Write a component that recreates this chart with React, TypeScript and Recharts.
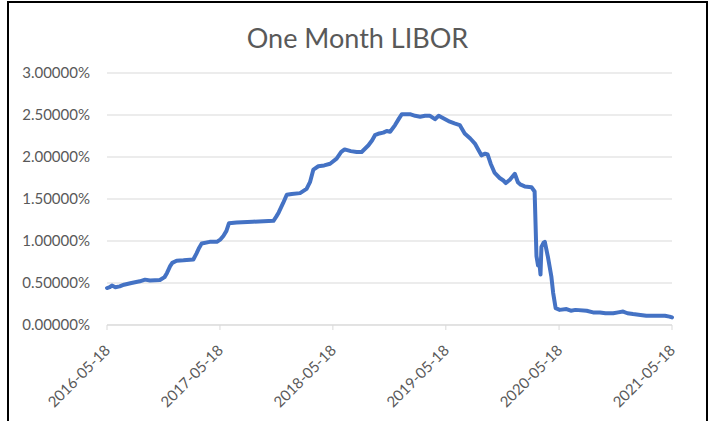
import { LineChart, Line, XAxis, YAxis, CartesianGrid } from "recharts";

const dates = [
  "2016-05-18", "2016-05-27", "2016-06-03", "2016-06-14", "2016-06-28", "2016-07-12",
  "2016-08-05", "2016-09-01", "2016-09-18", "2016-10-04", "2016-11-05", "2016-11-20",
  "2016-11-28", "2016-12-08", "2016-12-15", "2016-12-29", "2017-01-20", "2017-02-21",
  "2017-03-03", "2017-03-12", "2017-03-20", "2017-04-15", "2017-05-08", "2017-05-20",
  "2017-05-29", "2017-06-08", "2017-06-16", "2017-07-11", "2017-09-01", "2017-11-07",
  "2017-11-16", "2017-11-24", "2017-12-08", "2017-12-20", "2018-01-05", "2018-02-01",
  "2018-02-22", "2018-03-05", "2018-03-16", "2018-04-01", "2018-04-20", "2018-05-09",
  "2018-05-30", "2018-06-14", "2018-06-25", "2018-07-15", "2018-08-03", "2018-08-19",
  "2018-09-10", "2018-09-22", "2018-10-01", "2018-10-15", "2018-10-28", "2018-11-08",
  "2018-11-19", "2018-12-05", "2018-12-18", "2018-12-27", "2019-01-10", "2019-01-22",
  "2019-02-08", "2019-02-24", "2019-03-12", "2019-03-28", "2019-04-13", "2019-04-25",
  "2019-05-10", "2019-05-31", "2019-06-15", "2019-07-02", "2019-07-10", "2019-07-18",
  "2019-08-05", "2019-08-20", "2019-09-01", "2019-09-10", "2019-09-22", "2019-09-30",
  "2019-10-10", "2019-10-23", "2019-11-08", "2019-11-20", "2019-11-28", "2019-12-11",
  "2019-12-27", "2020-01-06", "2020-01-15", "2020-01-28", "2020-02-19", "2020-02-29",
  "2020-03-06", "2020-03-11", "2020-03-15", "2020-03-19", "2020-03-22", "2020-03-29",
  "2020-04-02", "2020-04-12", "2020-04-23", "2020-04-29", "2020-05-07", "2020-05-20",
  "2020-06-11", "2020-06-25", "2020-07-10", "2020-08-15", "2020-09-05", "2020-09-27",
  "2020-10-15", "2020-11-09", "2020-11-25", "2020-12-11", "2020-12-25", "2021-01-12",
  "2021-02-05", "2021-02-24", "2021-03-20", "2021-04-08", "2021-04-25", "2021-05-10",
  "2021-05-18",
];

// one month LIBOR, in percent
const rates = [
  0.44, 0.45, 0.47, 0.45, 0.46, 0.48,
  0.5, 0.52, 0.54, 0.53, 0.535, 0.57,
  0.62, 0.7, 0.74, 0.765, 0.77, 0.78,
  0.85, 0.92, 0.97, 0.99, 0.99, 1.02,
  1.06, 1.12, 1.21, 1.22, 1.23, 1.24,
  1.29, 1.34, 1.45, 1.55, 1.56, 1.57,
  1.62, 1.7, 1.85, 1.89, 1.9, 1.92,
  1.98, 2.06, 2.09, 2.07, 2.06, 2.06,
  2.14, 2.2, 2.26, 2.28, 2.29, 2.31,
  2.3, 2.38, 2.46, 2.51, 2.51, 2.51,
  2.49, 2.48, 2.49, 2.49, 2.45, 2.49,
  2.46, 2.42, 2.4, 2.38, 2.33, 2.28,
  2.22, 2.16, 2.08, 2.02, 2.04, 2.03,
  1.92, 1.81, 1.75, 1.72, 1.69, 1.73,
  1.8, 1.7, 1.67, 1.65, 1.64, 1.59,
  0.82, 0.71, 0.76, 0.6, 0.93, 0.98,
  0.99, 0.81, 0.58, 0.38, 0.2, 0.18,
  0.19, 0.17, 0.18, 0.17, 0.15, 0.15,
  0.14, 0.14, 0.15, 0.16, 0.14, 0.13,
  0.12, 0.11, 0.11, 0.11, 0.11, 0.1,
  0.09,
];

const tickDates = ["2016-05-18", "2017-05-18", "2018-05-18", "2019-05-18", "2020-05-18", "2021-05-18"];
const yTicks = [0, 0.5, 1, 1.5, 2, 2.5, 3];

const toTime = (d: string) => new Date(d + "T00:00:00Z").getTime();

const data = dates.map((d, i) => ({ t: toTime(d), rate: rates[i] }));

const FONT = "Lato, 'Open Sans', sans-serif";
const GREY = "#595959";

function DateTick(props: any) {
  const { x, y, payload } = props;
  const label = new Date(payload.value).toISOString().slice(0, 10);
  return (
    <g transform={`translate(${x},${y})`}>
      <text
        textAnchor="end"
        dominantBaseline="central"
        transform="rotate(-45)"
        fill={GREY}
        fontSize={15}
        fontFamily={FONT}
      >
        {label}
      </text>
    </g>
  );
}

export default function App() {
  return (
    <div style={{ position: "absolute", left: 0, top: 0, width: 711, height: 421, background: "#fff" }}>
      <div
        style={{
          position: "absolute",
          left: 7,
          top: 1,
          width: 701,
          height: 420,
          boxSizing: "border-box",
          border: "2px solid #000",
          borderBottom: "none",
        }}
      />
      <div
        style={{
          position: "absolute",
          left: 7,
          top: 24,
          width: 701,
          textAlign: "center",
          fontFamily: FONT,
          fontSize: 27,
          lineHeight: "27px",
          color: GREY,
        }}
      >
        One Month LIBOR
      </div>
      <div style={{ position: "absolute", left: 0, top: 0 }}>
        <LineChart width={711} height={421} data={data} margin={{ top: 73, right: 39, bottom: 0, left: 0 }}>
          <CartesianGrid vertical={false} stroke="#d9d9d9" strokeWidth={1} />
          <XAxis
            dataKey="t"
            type="number"
            domain={[toTime(tickDates[0]), toTime(tickDates[tickDates.length - 1])]}
            ticks={tickDates.map(toTime)}
            height={96}
            tickSize={5}
            tickMargin={17}
            axisLine={{ stroke: "#d9d9d9" }}
            tickLine={{ stroke: "#d9d9d9" }}
            tick={<DateTick />}
            interval={0}
          />
          <YAxis
            width={107}
            domain={[0, 3]}
            ticks={yTicks}
            axisLine={false}
            tickLine={false}
            tickMargin={17}
            tickSize={0}
            tickFormatter={(v: number) => v.toFixed(5) + "%"}
            tick={{ fill: GREY, fontSize: 15, fontFamily: FONT }}
            interval={0}
          />
          <Line
            type="linear"
            dataKey="rate"
            stroke="#4472c4"
            strokeWidth={4}
            strokeLinejoin="round"
            strokeLinecap="round"
            dot={false}
            isAnimationActive={false}
          />
        </LineChart>
      </div>
    </div>
  );
}
